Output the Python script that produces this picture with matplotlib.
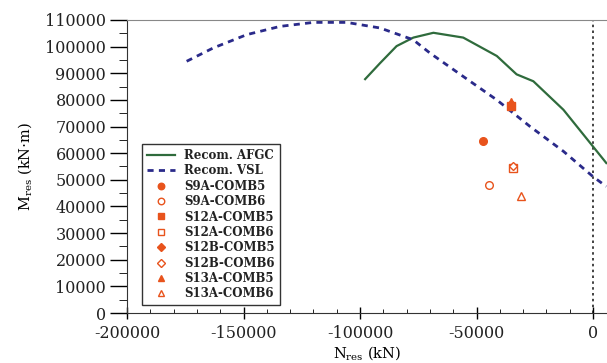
import matplotlib.pyplot as plt
from matplotlib.ticker import MultipleLocator

plt.rcParams['font.family'] = ['DejaVu Serif']
plt.rcParams['mathtext.fontset'] = 'dejavuserif'
plt.rcParams['axes.unicode_minus'] = False

# Recom. AFGC curve
afgc_n = [-97800, -91400, -84300, -77100, -68500, -55700, -41300, -32800, -25600, -12700, 0, 5700]
afgc_m = [87800, 93800, 100200, 103400, 105200, 103400, 96500, 89600, 87000, 76300, 62500, 56300]

# Recom. VSL curve
vsl_n = [-174400, -163000, -148600, -134300, -120000, -105700, -91400, -77200,
         -70000, -55700, -41300, -27000, -12700, 0, 5700]
vsl_m = [94500, 99500, 104500, 107600, 109100, 109100, 107000, 102600,
         97600, 88800, 80000, 70000, 60700, 51200, 47500]

# test points
pt_labels = ['S9A-COMB5', 'S9A-COMB6', 'S12A-COMB5', 'S12A-COMB6',
             'S12B-COMB5', 'S12B-COMB6', 'S13A-COMB5', 'S13A-COMB6']
pt_n = [-47100, -44500, -35000, -34300, -35000, -34300, -35000, -31100]
pt_m = [64400, 48100, 77800, 54400, 78300, 55200, 79300, 43800]
pt_marker = ['o', 'o', 's', 's', 'D', 'D', '^', '^']
pt_filled = [True, False, True, False, True, False, True, False]

orange = '#e8531c'

fig = plt.figure(figsize=(6.07, 3.63), dpi=100)
ax = fig.add_axes([127 / 607, 50 / 363, 480 / 607, 293 / 363])

ax.axvline(0, color='#222222', ls=(0, (1.5, 2)), lw=1.2, zorder=1)
ax.plot(afgc_n, afgc_m, color='#2f6b3c', lw=1.6, label='Recom. AFGC')
ax.plot(vsl_n, vsl_m, color='#2a2a8a', lw=2.0, ls=(0, (2.2, 1.9)), label='Recom. VSL')

for lab, x, y, mk, fl in zip(pt_labels, pt_n, pt_m, pt_marker, pt_filled):
    ms = 4.5 if mk == 'D' else 5.5
    ax.plot([x], [y], ls='none', marker=mk, ms=ms, mew=1.0, mec=orange,
            mfc=orange if fl else 'white', label=lab)

ax.set_xlim(-200000, 6000)
ax.set_ylim(0, 110000)
ax.xaxis.set_major_locator(MultipleLocator(50000))
ax.xaxis.set_minor_locator(MultipleLocator(10000))
ax.yaxis.set_major_locator(MultipleLocator(10000))
ax.yaxis.set_minor_locator(MultipleLocator(5000))

ax.spines['right'].set_visible(False)
ax.spines['top'].set_color('#888888')
for s in ['left', 'bottom']:
    ax.spines[s].set_color('#333333')
ax.tick_params(axis='x', which='major', direction='inout', length=8, width=1, labelsize=11.5, pad=5)
ax.tick_params(axis='x', which='minor', direction='in', length=3)
ax.tick_params(axis='y', which='major', direction='out', length=12, width=1, labelsize=11.5, pad=3)
ax.tick_params(axis='y', which='minor', direction='out', length=6)
ax.tick_params(top=False, right=False, which='both')
for t in ax.get_xticklabels() + ax.get_yticklabels():
    t.set_color('#222222')

ax.set_xlabel(r'N$_{\rm res}$ (kN)', fontsize=10.5, labelpad=1)
ax.set_ylabel(r'M$_{\rm res}$ (kN$\cdot$m)', fontsize=10.5, labelpad=8)

leg = ax.legend(loc='lower left', bbox_to_anchor=(0.031, 0.027), borderaxespad=0,
                prop={'weight': 'bold', 'size': 8.5}, handlelength=2.4,
                labelspacing=0.2, fancybox=False, edgecolor='#333333',
                framealpha=1, borderpad=0.4, markerscale=0.85)
leg.get_frame().set_linewidth(1.0)
for t in leg.get_texts():
    t.set_color('#222222')

fig.savefig('out.png', dpi=100)
